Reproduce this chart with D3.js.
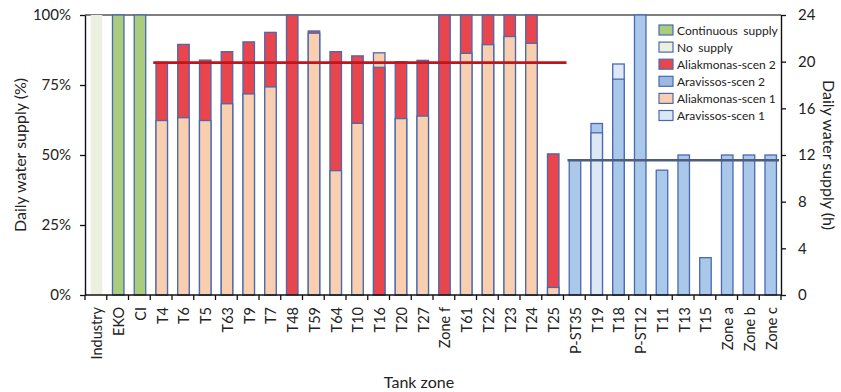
<!DOCTYPE html>
<html>
<head>
<meta charset="utf-8">
<script src="https://cdn.jsdelivr.net/npm/d3@7/dist/d3.min.js"></script>
<style>
  html, body { margin: 0; padding: 0; background: #fff; }
  svg { display: block; font-family: Lato, "Liberation Sans", Arial, sans-serif; }
</style>
</head>
<body>
<svg id="chart" width="841" height="392"></svg>
<script>
// Tank zones along the x axis
const zones = ["Industry","EKO","CI","T4","T6","T5","T63","T9","T7","T48","T59","T64","T10","T16","T20","T27","Zone f","T61","T22","T23","T24","T25","P-ST35","T19","T18","P-ST12","T11","T13","T15","Zone a","Zone b","Zone c"];

// Left axis series (% of day)
const noSupply   = { "Industry": 100 };
const continuous = { "EKO": 100, "CI": 100 };
const aliakScen1 = { "T4": 62.3, "T6": 63.3, "T5": 62.3, "T63": 68.3, "T9": 71.8, "T7": 74.3, "T59": 93.5, "T64": 44.4, "T10": 61.3, "T16": 86.5, "T20": 63.0, "T27": 63.9, "T61": 86.3, "T22": 89.4, "T23": 92.3, "T24": 89.9, "T25": 2.7 };
const aliakScen2 = { "T4": 83.1, "T6": 89.5, "T5": 83.9, "T63": 86.9, "T9": 90.4, "T7": 93.8, "T48": 100, "T59": 94.3, "T64": 86.9, "T10": 85.4, "T16": 81.3, "T20": 83.3, "T27": 83.8, "Zone f": 100, "T61": 100, "T22": 100, "T23": 100, "T24": 100, "T25": 50.4 };

// Right axis series (hours per day)
const aravScen1 = { "T19": 13.9, "T18": 19.8 };
const aravScen2 = { "P-ST35": 11.6, "T19": 14.7, "T18": 18.5, "P-ST12": 24, "T11": 10.7, "T13": 12, "T15": 3.2, "Zone a": 12, "Zone b": 12, "Zone c": 12 };

// Average lines
const aliakAvgPct = 83;
const aravAvgHours = 11.55;
const aliakRange = ["T4", "T25"];
const aravRange = ["P-ST35", "Zone c"];

const pctTicks = [0, 25, 50, 75, 100];
const hourTicks = [0, 4, 8, 12, 16, 20, 24];

const legendItems = [
  ["Continuous supply", "#a9cd7c", 2.5],
  ["No supply", "#ebf1de", 2.5],
  ["Aliakmonas-scen 2", "#e8464c", 0],
  ["Aravissos-scen 2", "#9db9e2", 0],
  ["Aliakmonas-scen 1", "#f9cfb0", 0],
  ["Aravissos-scen 1", "#dce7f6", 0]
];

const colors = {
  none: "#ebf1de", cont: "#a9cd7c", al2: "#e8464c", al1: "#f9cfb0",
  ar2: "#a9c8ea", ar1: "#dde8f6", edge: "#4a69b0"
};

const svg = d3.select("#chart");
const m = { left: 85, right: 781, top: 15, bottom: 295 };

const x = d3.scaleBand().domain(zones).range([m.left, m.right]).paddingInner(0).paddingOuter(0);
const yPct = d3.scaleLinear().domain([0, 100]).range([m.bottom, m.top]);
const yHr = d3.scaleLinear().domain([0, 24]).range([m.bottom, m.top]);

const barW = 11.5;
const barX = z => x(z) + (x.bandwidth() - barW) / 2 + 0.6;

// top border of the plot
svg.append("line")
  .attr("x1", m.left).attr("x2", m.right).attr("y1", m.top).attr("y2", m.top)
  .attr("stroke", "#555").attr("stroke-width", 1.3);

// Build the list of rectangles: for each zone, the taller series goes behind
const rects = [];
zones.forEach(z => {
  if (noSupply[z] != null) rects.push({ z, v: yPct(noSupply[z]), fill: colors.none, stroke: "none" });
  if (continuous[z] != null) rects.push({ z, v: yPct(continuous[z]), fill: colors.cont, stroke: colors.edge });
  const pair = [];
  if (aliakScen2[z] != null) pair.push({ z, v: yPct(aliakScen2[z]), fill: colors.al2, stroke: colors.edge });
  if (aliakScen1[z] != null) pair.push({ z, v: yPct(aliakScen1[z]), fill: colors.al1, stroke: colors.edge });
  if (aravScen2[z] != null) pair.push({ z, v: yHr(aravScen2[z]), fill: colors.ar2, stroke: colors.edge });
  if (aravScen1[z] != null) pair.push({ z, v: yHr(aravScen1[z]), fill: colors.ar1, stroke: colors.edge });
  pair.sort((a, b) => a.v - b.v); // smaller y (taller bar) first
  rects.push(...pair);
});

svg.append("g").selectAll("rect").data(rects).join("rect")
  .attr("x", d => barX(d.z))
  .attr("y", d => d.v)
  .attr("width", barW)
  .attr("height", d => m.bottom - d.v)
  .attr("fill", d => d.fill)
  .attr("stroke", d => d.stroke)
  .attr("stroke-width", 1.3);

// Average lines
svg.append("line")
  .attr("x1", x(aliakRange[0]) + 3).attr("x2", x(aliakRange[1]) + x.bandwidth() + 3)
  .attr("y1", yPct(aliakAvgPct)).attr("y2", yPct(aliakAvgPct))
  .attr("stroke", "#c0151b").attr("stroke-width", 2.8);
svg.append("line")
  .attr("x1", x(aravRange[0]) + 4).attr("x2", x(aravRange[1]) + x.bandwidth() - 2)
  .attr("y1", yHr(aravAvgHours)).attr("y2", yHr(aravAvgHours))
  .attr("stroke", "#4c5d7e").attr("stroke-width", 2.6);

// Axes
const font = "Lato, 'Liberation Sans', Arial, sans-serif";
const axisStyle = g => {
  g.selectAll(".domain").attr("stroke", "#111").attr("stroke-width", 1.4);
  g.selectAll(".tick line").attr("stroke", "#111").attr("stroke-width", 1.3);
  g.selectAll("text").attr("fill", "#222").style("font-family", font);
};

svg.append("g")
  .attr("transform", `translate(${m.left},0)`)
  .call(d3.axisLeft(yPct).tickValues(pctTicks).tickFormat(d => d + "%").tickSize(5).tickSizeOuter(0).tickPadding(9))
  .call(axisStyle)
  .selectAll("text").style("font-size", "15px");

svg.append("g")
  .attr("transform", `translate(${m.right},0)`)
  .call(d3.axisRight(yHr).tickValues(hourTicks).tickSize(5).tickSizeOuter(0).tickPadding(12))
  .call(axisStyle)
  .selectAll("text").style("font-size", "15px");

// Bottom axis: ticks at band boundaries, labels rotated at band centres
const gx = svg.append("g").attr("transform", `translate(0,${m.bottom})`);
gx.append("line").attr("x1", m.left).attr("x2", m.right).attr("stroke", "#111").attr("stroke-width", 1.4);
gx.selectAll("line.tk").data(zones.concat(["__end"])).join("line")
  .attr("class", "tk")
  .attr("x1", (d, i) => m.left + i * x.bandwidth())
  .attr("x2", (d, i) => m.left + i * x.bandwidth())
  .attr("y1", 0).attr("y2", 5)
  .attr("stroke", "#111").attr("stroke-width", 1.3);
gx.selectAll("text").data(zones).join("text")
  .attr("transform", d => `translate(${x(d) + x.bandwidth() / 2 + 1},12) rotate(-90)`)
  .attr("text-anchor", "end")
  .attr("dominant-baseline", "central")
  .attr("fill", "#222")
  .style("font-size", "14.5px")
  .text(d => d);

// Axis titles
svg.append("text")
  .attr("transform", `translate(19,${(m.top + m.bottom) / 2}) rotate(-90)`)
  .attr("text-anchor", "middle").attr("dominant-baseline", "central")
  .attr("fill", "#222").style("font-size", "16px")
  .text("Daily water supply (%)");
svg.append("text")
  .attr("transform", `translate(829,${(m.top + m.bottom) / 2}) rotate(90)`)
  .attr("text-anchor", "middle").attr("dominant-baseline", "central")
  .attr("fill", "#222").style("font-size", "16px")
  .text("Daily water supply (h)");
svg.append("text")
  .attr("x", 419).attr("y", 381)
  .attr("text-anchor", "middle").attr("dominant-baseline", "central")
  .attr("fill", "#222").style("font-size", "16px")
  .text("Tank zone");

// Legend
const lg = svg.append("g");
lg.selectAll("rect").data(legendItems).join("rect")
  .attr("x", 659).attr("y", (d, i) => 25 + i * 17.1)
  .attr("width", 14).attr("height", 10)
  .attr("fill", d => d[1]).attr("stroke", colors.edge).attr("stroke-width", 1.2);
lg.selectAll("text").data(legendItems).join("text")
  .attr("x", 677).attr("y", (d, i) => 30 + i * 17.1)
  .attr("dominant-baseline", "central")
  .attr("fill", "#222").style("font-size", "12px")
  .style("word-spacing", d => d[2] + "px")
  .text(d => d[0]);
</script>
</body>
</html>
